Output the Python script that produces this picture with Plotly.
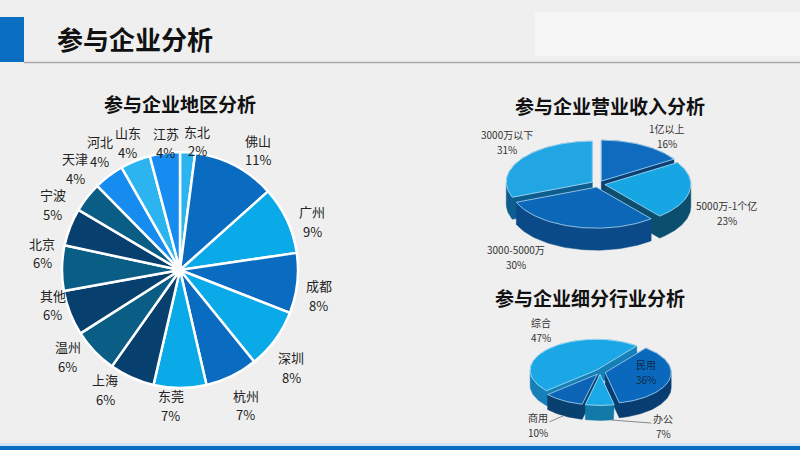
import numpy as np
import plotly.graph_objects as go

# ---------------- data ----------------
region_labels = ["东北", "佛山", "广州", "成都", "深圳", "杭州", "东莞", "上海",
                 "温州", "其他", "北京", "宁波", "天津", "河北", "山东", "江苏"]
region_values = [2, 11, 9, 8, 8, 7, 7, 6, 6, 6, 6, 5, 4, 4, 4, 4]

income_labels = ["1亿以上", "5000万-1个亿", "3000-5000万", "3000万以下"]
income_values = [16, 23, 30, 31]

industry_labels = ["民用", "办公", "商用", "综合"]
industry_values = [36, 7, 10, 47]

main_title = "参与企业分析"
region_title = "参与企业地区分析"
income_title = "参与企业营业收入分析"
industry_title = "参与企业细分行业分析"

# ---------------- style ----------------
FONT = "Noto Sans CJK SC"
W, H = 800, 450
region_colors = ["#2bb4ef", "#0a6cc0", "#0aaae8", "#0a6cc0", "#0aaae8", "#0a6cc0",
                 "#0aaae8", "#073f6e", "#0a5e86", "#073f6e", "#0a5e86", "#073f6e",
                 "#0a5e86", "#168cf0", "#2bb4ef", "#168cf0"]
# left pie geometry and per-label distance / angle nudges (style only)
pcx, pcy, pr = 180, 270, 118
region_lab_dist = [130, 143, 141, 141, 148, 150, 136, 141,
                   142, 132, 139, 143, 146, 143, 138, 128]
region_lab_dang = [4, 5, 5, 4, 5, 0, 4, 8, 6, 6, 6, 6, 6, 3, 0, 1]

income_top = ["#0e6bbd", "#16a6e4", "#0c67b8", "#22a6e3"]
income_side = ["#093f72", "#0b4e6e", "#0a4a88", "#0d5d8f"]
income_style = dict(cx=598, cy=184, rx=86, ry=41, depth=22, start=0, pull=0.08)
income_lab = [dict(ax=24, ay=-9, lead=None, frac=0.5, bottom=False),
              dict(ax=37, ay=22, lead=None, frac=0.5, bottom=False),
              dict(ax=-59, ay=30, lead=None, frac=0.5, bottom=False),
              dict(ax=-14, ay=-17, lead=None, frac=0.5, bottom=False)]

industry_top = ["#0a69bd", "#1aa8e6", "#0b64b5", "#1ba7e6"]
industry_side = ["#073d70", "#137aa8", "#08406f", "#1580b8"]
industry_style = dict(cx=600, cy=372, rx=66, ry=31, depth=15, start=38, pull=0.08)
industry_lab = [dict(ax=-24, ay=-7, lead=None, frac=0.5, bottom=False, inside=True),
                dict(ax=52, ay=6, lead=(-12, -3), frac=0.1, bottom=True),
                dict(ax=-26, ay=9, lead=(12, -3), frac=0.5, bottom=True),
                dict(ax=-7, ay=-19, lead=None, frac=0.5, bottom=False)]


def add_label(fig, x, y, line1, line2, size, color):
    gap = size * 1.5
    for txt, yy in ((line1, y - gap / 2), (line2, y + gap / 2)):
        fig.add_annotation(x=x, y=yy, xref="x", yref="y", showarrow=False,
                           text=txt, yanchor="middle",
                           font=dict(family=FONT, size=size, color=color))


def convex_hull(points):
    pts = sorted(set((round(float(x), 3), round(float(y), 3)) for x, y in points))
    if len(pts) <= 2:
        return pts

    def cross(o, a, b):
        return (a[0] - o[0]) * (b[1] - o[1]) - (a[1] - o[1]) * (b[0] - o[0])

    lower, upper = [], []
    for p in pts:
        while len(lower) >= 2 and cross(lower[-2], lower[-1], p) <= 0:
            lower.pop()
        lower.append(p)
    for p in reversed(pts):
        while len(upper) >= 2 and cross(upper[-2], upper[-1], p) <= 0:
            upper.pop()
        upper.append(p)
    return lower[:-1] + upper[:-1]


def pie3d(fig, labels, values, tops, sides, st, labst):
    total = float(sum(values))
    cx, cy, rx, ry, d = st["cx"], st["cy"], st["rx"], st["ry"], st["depth"]
    a = st["start"]
    slices = []
    for i, v in enumerate(values):
        a0 = a
        a1 = a + 360.0 * v / total
        a = a1
        mid = np.radians((a0 + a1) / 2)
        ox = st["pull"] * rx * np.sin(mid)
        oy = -st["pull"] * ry * np.cos(mid)
        th = np.radians(np.linspace(a0, a1, 80))
        xs = cx + ox + rx * np.sin(th)
        ys = cy + oy - ry * np.cos(th)
        topx = np.concatenate([[cx + ox], xs, [cx + ox]])
        topy = np.concatenate([[cy + oy], ys, [cy + oy]])
        slices.append(dict(i=i, a0=a0, a1=a1, mid=mid, ox=ox, oy=oy,
                           topx=topx, topy=topy))
    order = sorted(slices, key=lambda s: -np.cos(s["mid"]))
    for s in order:
        pts = list(zip(s["topx"], s["topy"])) + list(zip(s["topx"], s["topy"] + d))
        hl = convex_hull(pts)
        hx = [p[0] for p in hl] + [hl[0][0]]
        hy = [p[1] for p in hl] + [hl[0][1]]
        fig.add_trace(go.Scatter(x=hx, y=hy, mode="lines", fill="toself",
                                 fillcolor=sides[s["i"]],
                                 line=dict(color=sides[s["i"]], width=0.5),
                                 hoverinfo="skip", showlegend=False))
        fig.add_trace(go.Scatter(x=s["topx"], y=s["topy"], mode="lines", fill="toself",
                                 fillcolor=tops[s["i"]],
                                 line=dict(color="rgba(200,235,255,0.7)", width=1),
                                 hoverinfo="skip", showlegend=False))
    for s in slices:
        lb = labst[s["i"]]
        ang = np.radians(s["a0"] + (s["a1"] - s["a0"]) * lb["frac"])
        px = cx + s["ox"] + rx * np.sin(ang)
        py = cy + s["oy"] - ry * np.cos(ang) + (d if lb["bottom"] else 0)
        tx, ty = px + lb["ax"], py + lb["ay"]
        if lb["lead"] is not None:
            fig.add_trace(go.Scatter(x=[px, tx + lb["lead"][0]],
                                     y=[py, ty + lb["lead"][1]],
                                     mode="lines", line=dict(color="#8a8a8a", width=1),
                                     hoverinfo="skip", showlegend=False))
        add_label(fig, tx, ty, labels[s["i"]], f"{values[s['i']]}%", 10,
                  "#0b2a4a" if lb.get("inside") else "#333333")


fig = go.Figure()

# left pie (regular)
fig.add_trace(go.Pie(
    labels=region_labels, values=region_values, sort=False, direction="clockwise",
    rotation=0, marker=dict(colors=region_colors, line=dict(color="white", width=2.5)),
    textinfo="none", hoverinfo="label+value", showlegend=False,
    domain=dict(x=[(pcx - pr) / W, (pcx + pr) / W],
                y=[1 - (pcy + pr) / H, 1 - (pcy - pr) / H])))

# left pie labels, positioned from each slice's mid angle
rtot = float(sum(region_values))
acc = 0.0
for i, (lab, v) in enumerate(zip(region_labels, region_values)):
    mid = np.radians((acc + v / 2) / rtot * 360.0 + region_lab_dang[i])
    acc += v
    dist = region_lab_dist[i]
    add_label(fig, pcx + dist * np.sin(mid), pcy - dist * np.cos(mid),
              lab, f"{v}%", 13, "#222222")

pie3d(fig, income_labels, income_values, income_top, income_side, income_style, income_lab)
pie3d(fig, industry_labels, industry_values, industry_top, industry_side,
      industry_style, industry_lab)

# decorations
shapes = [
    dict(type="rect", xref="x", yref="y", x0=535, x1=800, y0=12, y1=56,
         fillcolor="#f6f6f6", line=dict(width=0), layer="below"),
    dict(type="rect", xref="x", yref="y", x0=0, x1=24, y0=17, y1=62,
         fillcolor="#0a6fc2", line=dict(width=0)),
    dict(type="line", xref="x", yref="y", x0=24, x1=800, y0=62.5, y1=62.5,
         line=dict(color="#a8a8a8", width=1.5)),
    dict(type="rect", xref="x", yref="y", x0=0, x1=800, y0=443, y1=446,
         fillcolor="#cfe3f3", line=dict(width=0)),
    dict(type="rect", xref="x", yref="y", x0=0, x1=800, y0=446, y1=450,
         fillcolor="#0a6fc2", line=dict(width=0)),
]

annos = [
    dict(x=55, y=38, text=f"<b>{main_title}</b>", xanchor="left",
         font=dict(size=26, color="#111111")),
    dict(x=180, y=103, text=f"<b>{region_title}</b>", font=dict(size=19, color="#111111")),
    dict(x=610, y=105, text=f"<b>{income_title}</b>", font=dict(size=19, color="#111111")),
    dict(x=590, y=297, text=f"<b>{industry_title}</b>", font=dict(size=19, color="#111111")),
]
for a in annos:
    a.update(xref="x", yref="y", showarrow=False, yanchor="middle")
    a["font"]["family"] = FONT
    fig.add_annotation(**a)

fig.update_layout(
    width=W, height=H, margin=dict(l=0, r=0, t=0, b=0),
    paper_bgcolor="#efefef", plot_bgcolor="rgba(0,0,0,0)",
    xaxis=dict(range=[0, W], visible=False, fixedrange=True),
    yaxis=dict(range=[H, 0], visible=False, fixedrange=True),
    shapes=shapes, showlegend=False,
)

fig.write_html("out.html", config={"displayModeBar": False},
               post_script="document.body.style.margin='0px';"
                           "document.body.style.overflow='hidden';")
